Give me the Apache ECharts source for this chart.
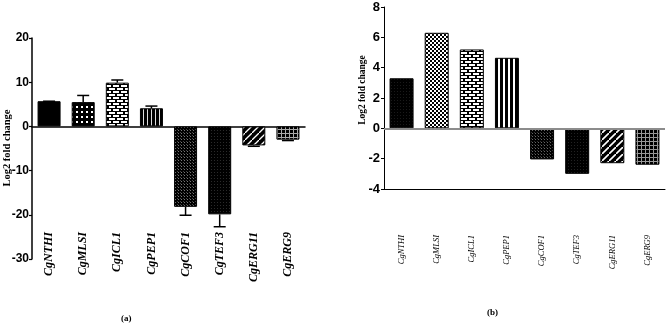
<!DOCTYPE html>
<html>
<head>
<meta charset="utf-8">
<script src="https://cdn.jsdelivr.net/npm/echarts@6/dist/echarts.min.js"></script>
<style>
html,body{margin:0;padding:0;background:#fff}
#chart{width:669px;height:324px}
</style>
</head>
<body>
<div id="chart"></div>
<script>
// genes (same order in both panels)
var genes = ['CgNTHI', 'CgMLSI', 'CgICL1', 'CgPEP1', 'CgCOF1', 'CgTEF3', 'CgERG11', 'CgERG9'];
// panel (a): log2 fold change with error (one sided, away from zero)
var foldA = [5.7, 5.5, 9.9, 4.1, -18.2, -19.9, -4.3, -3.0];
var errA = [0, 1.5, 0.6, 0.5, 1.9, 2.8, 0.2, 0.2];
// panel (b)
var foldB = [3.3, 6.3, 5.2, 4.65, -2.05, -3.0, -2.3, -2.4];
// axis ticks
var ticksA = [-30, -20, -10, 0, 10, 20];
var ticksB = [-4, -2, 0, 2, 4, 6, 8];

function pat(w, h, draw) {
  var c = document.createElement('canvas');
  c.width = w; c.height = h;
  var g = c.getContext('2d');
  g.fillStyle = '#000';
  g.fillRect(0, 0, w, h);
  draw(g, w, h);
  return { image: c, repeat: 'repeat' };
}
function white(g, x, y, w, h, col) {
  g.fillStyle = col || '#fff';
  g.fillRect(x, y, w, h);
}

// bar fills, one per gene
var fillsA = [
  '#000',
  pat(5, 5, function (g) { white(g, 1, 1, 2, 2); }),
  pat(8, 6, function (g) { white(g, 1, 1, 6, 2); white(g, 0, 4, 3, 2); white(g, 5, 4, 3, 2); }),
  pat(4, 1, function (g) { white(g, 3, 0, 1, 1, '#ddd'); }),
  pat(3, 3, function (g) { white(g, 1, 1, 1, 1, '#777'); white(g, 0, 0, 1, 1, '#444'); }),
  pat(3, 3, function (g) { white(g, 1, 1, 1, 1, '#2a2a2a'); }),
  pat(7, 7, function (g) {
    g.strokeStyle = '#fff'; g.lineWidth = 1.3;
    g.beginPath(); g.moveTo(-1, 8); g.lineTo(8, -1); g.stroke();
  }),
  pat(4, 4, function (g) { white(g, 0, 1, 4, 1, '#aaa'); white(g, 1, 0, 1, 4, '#aaa'); })
];
var fillsB = [
  pat(3, 3, function (g) { white(g, 1, 1, 1, 1, '#1a1a1a'); }),
  pat(4, 4, function (g) { white(g, 0, 0, 2, 2); white(g, 2, 2, 2, 2); }),
  pat(8, 6, function (g) { white(g, 1, 1, 6, 2); white(g, 0, 4, 3, 2); white(g, 5, 4, 3, 2); }),
  pat(5, 1, function (g) { white(g, 3, 0, 2, 1); }),
  pat(3, 3, function (g) { white(g, 1, 1, 1, 1, '#666'); white(g, 0, 0, 1, 1, '#333'); }),
  pat(3, 3, function (g) { white(g, 1, 1, 1, 1, '#222'); }),
  pat(7, 7, function (g) {
    g.strokeStyle = '#fff'; g.lineWidth = 1.6;
    g.beginPath(); g.moveTo(-1, 8); g.lineTo(8, -1); g.stroke();
  }),
  pat(4, 4, function (g) { white(g, 0, 1, 4, 1, '#999'); white(g, 1, 0, 1, 4, '#999'); })
];

var dataA = foldA.map(function (v, i) {
  return { value: v, itemStyle: { color: fillsA[i] } };
});
var dataB = foldB.map(function (v, i) {
  return { value: v, itemStyle: { color: fillsB[i] } };
});
var errData = foldA.map(function (v, i) { return [i, v, errA[i]]; });

var chart = echarts.init(document.getElementById('chart'));
var option = {
  animation: false,
  backgroundColor: '#fff',
  grid: [
    { left: 32, top: 38, right: 364, bottom: 65, containLabel: false, outerBoundsMode: 'none' },
    { left: 384, top: 7, right: 4, bottom: 135, containLabel: false, outerBoundsMode: 'none' }
  ],
  xAxis: [
    {
      gridIndex: 0,
      type: 'category',
      data: genes,
      axisLine: { onZero: true, lineStyle: { color: '#000', width: 1.5 } },
      axisTick: { alignWithLabel: true, length: 4, lineStyle: { color: '#000', width: 1.2 } },
      axisLabel: {
        rotate: 90, margin: -27, interval: 0,
        fontFamily: 'Liberation Serif', fontStyle: 'italic', fontWeight: 'bold',
        fontSize: 12, color: '#000'
      },
      splitLine: { show: false }
    },
    {
      gridIndex: 1,
      type: 'category',
      data: genes,
      axisLine: { onZero: false, lineStyle: { color: '#000', width: 1 } },
      axisTick: { alignWithLabel: true, length: 4, lineStyle: { color: '#000', width: 1 } },
      axisLabel: {
        rotate: 90, margin: 46, interval: 0,
        fontFamily: 'Liberation Serif', fontStyle: 'italic',
        fontSize: 8.5, color: '#000'
      },
      splitLine: { show: false }
    }
  ],
  yAxis: [
    {
      gridIndex: 0,
      type: 'value',
      min: ticksA[0], max: ticksA[ticksA.length - 1], interval: 10,
      axisLine: { show: true, lineStyle: { color: '#000', width: 1.5 } },
      axisTick: { show: true, length: 3, lineStyle: { color: '#000', width: 1.2 } },
      axisLabel: { margin: 3, fontFamily: 'Liberation Sans', fontWeight: 'bold', fontSize: 12, color: '#000' },
      splitLine: { show: false }
    },
    {
      gridIndex: 1,
      type: 'value',
      min: ticksB[0], max: ticksB[ticksB.length - 1], interval: 2,
      axisLine: { show: true, lineStyle: { color: '#000', width: 1 } },
      axisTick: { show: true, length: 3, lineStyle: { color: '#000', width: 1 } },
      axisLabel: { margin: 4, fontFamily: 'Liberation Sans', fontWeight: 'bold', fontSize: 13, color: '#000' },
      splitLine: { show: false }
    }
  ],
  graphic: [
    { type: 'text', left: 121, top: 314, style: { text: '(a)', font: 'bold 9px "Liberation Serif"', fill: '#000' } },
    { type: 'text', left: 487, top: 308, style: { text: '(b)', font: 'bold 9px "Liberation Serif"', fill: '#000' } },
    {
      type: 'text', x: 7, y: 148, rotation: Math.PI / 2,
      style: { text: 'Log2 fold change', font: 'bold 10.5px "Liberation Serif"', fill: '#000', align: 'center', verticalAlign: 'middle' }
    },
    {
      type: 'text', x: 363, y: 90, rotation: Math.PI / 2,
      style: { text: 'Log2 fold change', font: 'bold 9.5px "Liberation Serif"', fill: '#000', align: 'center', verticalAlign: 'middle' }
    }
  ],
  series: [
    {
      type: 'bar',
      xAxisIndex: 0, yAxisIndex: 0,
      barWidth: 23,
      itemStyle: { borderColor: '#000', borderWidth: 1 },
      data: dataA,
      z: 3
    },
    {
      type: 'custom',
      xAxisIndex: 0, yAxisIndex: 0,
      data: errData,
      z: 4,
      renderItem: function (params, api) {
        var i = api.value(0), v = api.value(1), e = api.value(2);
        var p0 = api.coord([i, v]);
        var p1 = api.coord([i, v < 0 ? v - e : v + e]);
        var st = { stroke: '#000', lineWidth: 1.5 };
        return {
          type: 'group',
          children: [
            { type: 'line', shape: { x1: p0[0], y1: p0[1], x2: p1[0], y2: p1[1] }, style: st },
            { type: 'line', shape: { x1: p1[0] - 6, y1: p1[1], x2: p1[0] + 6, y2: p1[1] }, style: st }
          ]
        };
      }
    },
    {
      type: 'bar',
      xAxisIndex: 1, yAxisIndex: 1,
      barWidth: 24,
      itemStyle: { borderColor: '#000', borderWidth: 1 },
      data: dataB,
      z: 3,
      markLine: {
        silent: true,
        symbol: 'none',
        label: { show: false },
        lineStyle: { color: '#8c8c8c', width: 2, type: 'solid' },
        data: [{ yAxis: 0 }],
        z: 5
      }
    }
  ]
};
chart.setOption(option);
</script>
</body>
</html>
